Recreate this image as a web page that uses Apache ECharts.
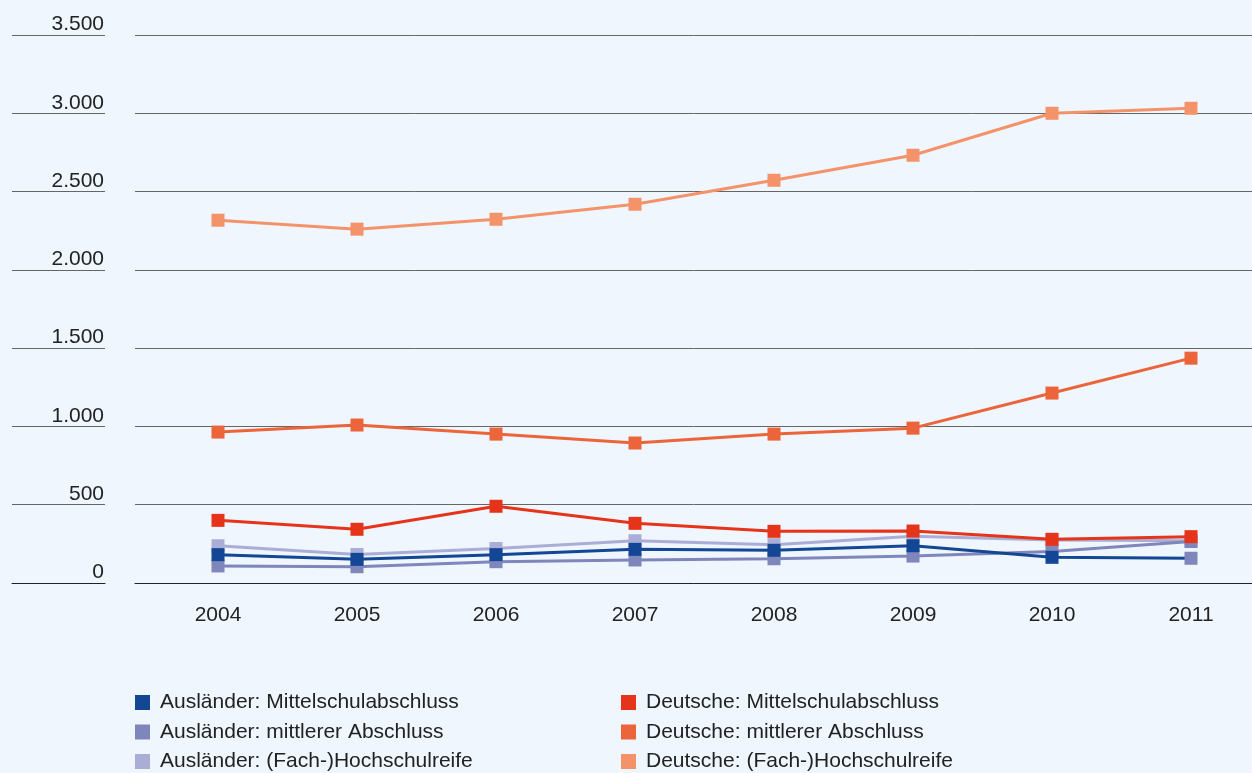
<!DOCTYPE html>
<html>
<head>
<meta charset="utf-8">
<style>
html,body{margin:0;padding:0;background:#eff6fd;}
#chart{width:1252px;height:773px;}
</style>
<script src="https://cdn.jsdelivr.net/npm/echarts@6/dist/echarts.min.js"></script>
</head>
<body>
<div id="chart"></div>
<script>
const years = ['2004','2005','2006','2007','2008','2009','2010','2011'];
const yTickLabels = ['0','500','1.000','1.500','2.000','2.500','3.000','3.500'];
const auslMittelschul = [181, 151, 181, 215, 209, 238, 164, 158];
const auslMittlerer = [109, 104, 136, 147, 155, 172, 201, 265];
const auslHochschul = [238, 182, 220, 270, 245, 298, 274, 270];
const deutMittelschul = [400, 343, 490, 381, 330, 332, 279, 296];
const deutMittlerer = [964, 1009, 951, 894, 951, 989, 1213, 1436];
const deutHochschul = [2317, 2260, 2323, 2419, 2572, 2732, 3000, 3032];

const names = [
  'Ausländer: Mittelschulabschluss',
  'Ausländer: mittlerer Abschluss',
  'Ausländer: (Fach-)Hochschulreife',
  'Deutsche: Mittelschulabschluss',
  'Deutsche: mittlerer Abschluss',
  'Deutsche: (Fach-)Hochschulreife'
];
const colors = ['#134695', '#7f86bb', '#aaaed6', '#e5341a', '#ec643a', '#f4936a'];
const FONT = '"Liberation Sans", Arial, sans-serif';

function mk(idx, data, z) {
  return {
    name: names[idx], type: 'line', xAxisIndex: 2, yAxisIndex: 2,
    data: data, symbol: 'rect', symbolSize: 13, z: z,
    itemStyle: {color: colors[idx]},
    lineStyle: {color: colors[idx], width: 3},
    emphasis: {disabled: true}, animation: false
  };
}
const blueData = auslMittelschul.map((v, i) => i === 7 ? {value: v, itemStyle: {color: colors[1]}} : v);

const legendCommon = {orient: 'vertical', icon: 'rect', itemWidth: 15, itemHeight: 15, itemGap: 8.5, padding: 0,
  top: 692, height: 81, textStyle: {fontSize: 21, lineHeight: 21, color: '#222', fontFamily: FONT, padding: [0, 0, 0, 5]}, selectedMode: false};

const chart = echarts.init(document.getElementById('chart'), null, {renderer: 'canvas'});
chart.setOption({
  backgroundColor: '#eff6fd',
  animation: false,
  textStyle: {fontFamily: FONT},
  grid: [
    {left: 135, right: 0, top: 35, bottom: 190},
    {left: 12, right: 1147, top: 35, bottom: 190},
    {left: 218, right: 61, top: 35, bottom: 190}
  ],
  xAxis: [
    {gridIndex: 0, type: 'value', min: 0, max: 1, axisLine: {show: true, lineStyle: {color: '#222', width: 1}}, axisTick: {show: false}, axisLabel: {show: false}, splitLine: {show: false}},
    {gridIndex: 1, type: 'value', min: 0, max: 1, axisLine: {show: true, lineStyle: {color: '#222', width: 1}}, axisTick: {show: false}, axisLabel: {show: false}, splitLine: {show: false}},
    {gridIndex: 2, type: 'category', data: years, boundaryGap: false, axisLine: {show: false}, axisTick: {show: false},
     axisLabel: {color: '#222', fontSize: 21, margin: 22, fontFamily: FONT}, splitLine: {show: false}}
  ],
  yAxis: [
    {gridIndex: 0, type: 'value', min: 0, max: 3500, interval: 500, axisLine: {show: false}, axisTick: {show: false}, axisLabel: {show: false},
     splitLine: {show: true, lineStyle: {color: '#666', width: 1}}},
    {gridIndex: 1, type: 'value', position: 'right', min: 0, max: 3500, interval: 500, axisLine: {show: false}, axisTick: {show: false},
     axisLabel: {inside: true, margin: 1, color: '#222', fontSize: 21, fontFamily: FONT, verticalAlign: 'bottom', lineHeight: 21, padding: [0, 0, 0, 0],
       formatter: (v) => yTickLabels[Math.round(v / 500)]},
     splitLine: {show: true, lineStyle: {color: '#666', width: 1}}},
    {gridIndex: 2, type: 'value', min: 0, max: 3500, interval: 500, show: false, splitLine: {show: false}}
  ],
  legend: [
    Object.assign({data: names.slice(0, 3), left: 135}, legendCommon),
    Object.assign({data: names.slice(3, 6), left: 621}, legendCommon)
  ],
  series: [
    mk(2, auslHochschul, 2),
    mk(1, auslMittlerer, 3),
    mk(0, blueData, 4),
    mk(3, deutMittelschul, 5),
    mk(4, deutMittlerer, 6),
    mk(5, deutHochschul, 7)
  ]
});
</script>
</body>
</html>
